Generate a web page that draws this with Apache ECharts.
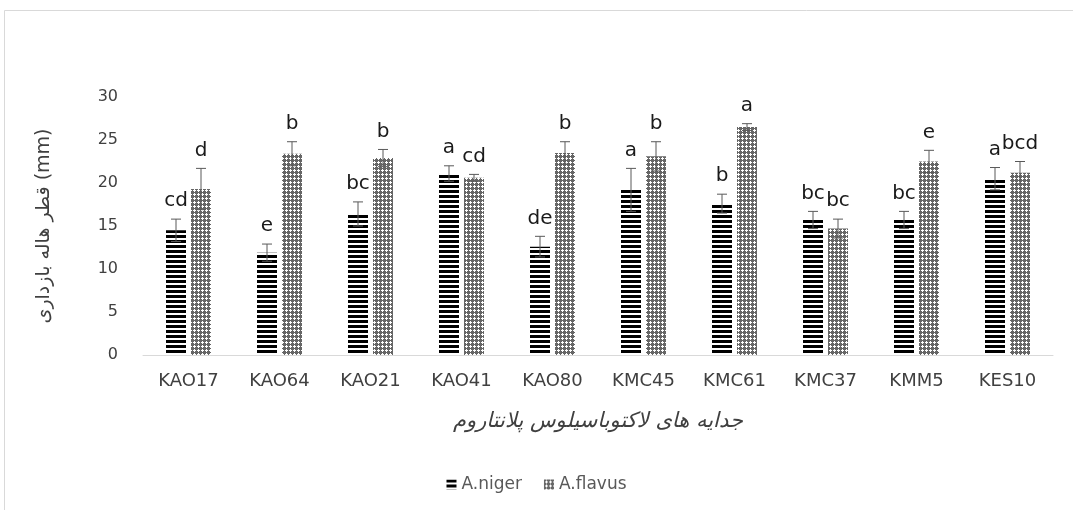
<!DOCTYPE html>
<html>
<head>
<meta charset="utf-8">
<script src="https://cdn.jsdelivr.net/npm/echarts@6/dist/echarts.min.js"></script>
<style>
  html, body { margin: 0; padding: 0; background: #fff; }
  #chart { width: 1073px; height: 510px; }
</style>
</head>
<body>
<div id="chart"></div>
<script>
const categories = ['KAO17', 'KAO64', 'KAO21', 'KAO41', 'KAO80', 'KMC45', 'KMC61', 'KMC37', 'KMM5', 'KES10']
const nigerMean = [14.5, 11.9, 16.4, 21.1, 12.6, 19.2, 17.6, 15.7, 15.7, 20.5]
const nigerErr = [1.3, 1.0, 1.4, 0.9, 1.2, 2.5, 1.1, 1.0, 1.0, 1.3]
const flavusMean = [19.3, 23.4, 22.9, 20.6, 23.5, 23.1, 26.5, 14.7, 22.5, 21.2]
const flavusErr = [2.4, 1.4, 1.0, 0.4, 1.3, 1.7, 0.4, 1.1, 1.3, 1.3]
const nigerLetters = ['cd', 'e', 'bc', 'a', 'de', 'a', 'b', 'bc', 'bc', 'a']
const flavusLetters = ['d', 'b', 'b', 'cd', 'b', 'b', 'a', 'bc', 'e', 'bcd']
const yTicks = [0, 5, 10, 15, 20, 25, 30]

const FONT = '"DejaVu Sans", "Open Sans", sans-serif'

// horizontal stripes for A.niger
function stripePattern() {
  const c = document.createElement('canvas')
  c.width = 4
  c.height = 5
  const ctx = c.getContext('2d')
  ctx.fillStyle = '#fff'
  ctx.fillRect(0, 0, 4, 5)
  ctx.fillStyle = '#000'
  ctx.fillRect(0, 0, 4, 3)
  return c
}

// diamond mesh for A.flavus
function crossPattern() {
  const c = document.createElement('canvas')
  c.width = 4
  c.height = 4
  const ctx = c.getContext('2d')
  ctx.fillStyle = '#666'
  ctx.fillRect(0, 0, 4, 4)
  ctx.fillStyle = '#fff'
  const white = [[2, 1], [1, 2], [2, 2], [3, 2], [2, 3]]
  white.forEach(p => ctx.fillRect(p[0], p[1], 1, 1))
  return c
}

function errorSeries(name, means, errs, letters, offset) {
  return {
    name: name,
    type: 'custom',
    z: 5,
    data: means.map((m, i) => [i, m, errs[i]]),
    renderItem: function (params, api) {
      const i = api.value(0)
      const m = api.value(1)
      const e = api.value(2)
      const top = api.coord([i, m + e])
      const bot = api.coord([i, m - e])
      const x = top[0] + offset
      const cap = 5
      const st = { stroke: '#595959', lineWidth: 1 }
      return {
        type: 'group',
        children: [
          { type: 'line', shape: { x1: x, y1: top[1], x2: x, y2: bot[1] }, style: st },
          { type: 'line', shape: { x1: x - cap, y1: top[1], x2: x + cap, y2: top[1] }, style: st },
          { type: 'line', shape: { x1: x - cap, y1: bot[1], x2: x + cap, y2: bot[1] }, style: st },
          {
            type: 'text',
            x: x,
            y: top[1] - 8,
            style: {
              text: letters[params.dataIndex],
              fill: '#1a1a1a',
              font: '20px ' + FONT,
              align: 'center',
              verticalAlign: 'bottom'
            }
          }
        ]
      }
    }
  }
}

const chart = echarts.init(document.getElementById('chart'))

const option = {
  backgroundColor: '#fff',
  animation: false,
  graphic: [
    {
      type: 'rect',
      shape: { x: 4.5, y: 10.5, width: 1200, height: 600 },
      style: { fill: 'none', stroke: '#d9d9d9', lineWidth: 1 },
      silent: true
    }
  ],
  grid: { left: 143, right: 20, top: 97, bottom: 155 },
  legend: {
    data: ['A.niger', 'A.flavus'],
    bottom: 12,
    left: 'center',
    itemWidth: 10,
    itemHeight: 10,
    itemGap: 22,
    icon: 'rect',
    textStyle: { color: '#595959', fontSize: 17, fontFamily: FONT }
  },
  xAxis: {
    type: 'category',
    data: categories,
    axisLine: { lineStyle: { color: '#d9d9d9', width: 1 } },
    axisTick: { show: false },
    axisLabel: { color: '#404040', fontSize: 18, fontFamily: FONT, margin: 17 },
    name: 'جدایه های لاکتوباسیلوس پلانتاروم',
    nameLocation: 'middle',
    nameGap: 56,
    nameTextStyle: { color: '#404040', fontSize: 21, fontStyle: 'italic', fontFamily: FONT }
  },
  yAxis: {
    type: 'value',
    min: yTicks[0],
    max: yTicks[yTicks.length - 1],
    interval: 5,
    axisLine: { show: false },
    axisTick: { show: false },
    splitLine: { show: false },
    axisLabel: { color: '#404040', fontSize: 16, fontFamily: FONT, margin: 25 },
    name: 'قطر هاله بازداری (mm)',
    nameLocation: 'middle',
    nameGap: 89,
    nameTextStyle: { color: '#404040', fontSize: 19, fontFamily: FONT }
  },
  series: [
    {
      name: 'A.niger',
      type: 'bar',
      data: nigerMean,
      barWidth: 20,
      barGap: '25%',
      itemStyle: { color: { image: stripePattern(), repeat: 'repeat' } }
    },
    {
      name: 'A.flavus',
      type: 'bar',
      data: flavusMean,
      barWidth: 20,
      barGap: '25%',
      itemStyle: { color: { image: crossPattern(), repeat: 'repeat' } }
    },
    errorSeries('nigerErr', nigerMean, nigerErr, nigerLetters, -12.5),
    errorSeries('flavusErr', flavusMean, flavusErr, flavusLetters, 12.5)
  ]
}

chart.setOption(option)
</script>
</body>
</html>
